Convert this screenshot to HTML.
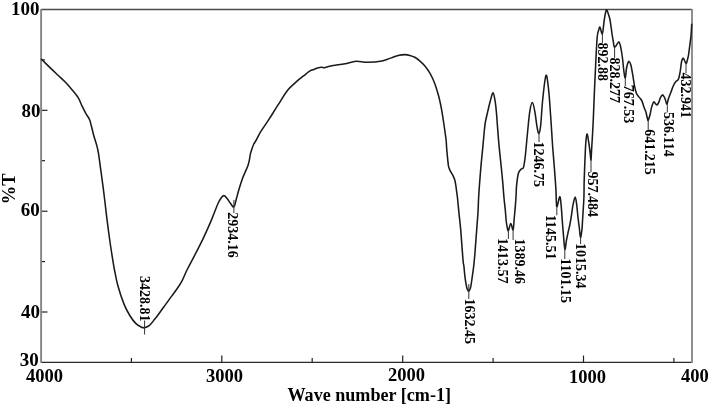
<!DOCTYPE html>
<html><head><meta charset="utf-8"><style>
html,body{margin:0;padding:0;background:#fff;}
svg{display:block;filter:grayscale(1);}
text{font-family:"Liberation Serif",serif;font-weight:bold;fill:#000;}
</style></head><body>
<svg width="709" height="405" viewBox="0 0 709 405">

<line x1="41" y1="9.5" x2="692" y2="9.5" stroke="#4a4a4a" stroke-width="1.3"/>
<line x1="41" y1="362.4" x2="692" y2="362.4" stroke="#2a2a2a" stroke-width="1.1"/>
<line x1="41.1" y1="8.9" x2="41.1" y2="362.9" stroke="#858585" stroke-width="1.9"/>
<line x1="692" y1="8.9" x2="692" y2="362.9" stroke="#8a8a8a" stroke-width="1.9"/>
<line x1="42" y1="312.0" x2="47.5" y2="312.0" stroke="#111" stroke-width="1.1"/>
<line x1="42" y1="261.6" x2="45.0" y2="261.6" stroke="#111" stroke-width="1.1"/>
<line x1="42" y1="211.2" x2="47.5" y2="211.2" stroke="#111" stroke-width="1.1"/>
<line x1="42" y1="160.7" x2="45.0" y2="160.7" stroke="#111" stroke-width="1.1"/>
<line x1="42" y1="110.3" x2="47.5" y2="110.3" stroke="#111" stroke-width="1.1"/>
<line x1="42" y1="59.9" x2="45.0" y2="59.9" stroke="#111" stroke-width="1.1"/>
<line x1="131.4" y1="358.0" x2="131.4" y2="362" stroke="#222" stroke-width="1.2"/>
<line x1="221.8" y1="355.5" x2="221.8" y2="362" stroke="#222" stroke-width="1.2"/>
<line x1="312.2" y1="358.0" x2="312.2" y2="362" stroke="#222" stroke-width="1.2"/>
<line x1="402.7" y1="355.5" x2="402.7" y2="362" stroke="#222" stroke-width="1.2"/>
<line x1="493.1" y1="358.0" x2="493.1" y2="362" stroke="#222" stroke-width="1.2"/>
<line x1="583.5" y1="355.5" x2="583.5" y2="362" stroke="#222" stroke-width="1.2"/>
<line x1="673.9" y1="358.0" x2="673.9" y2="362" stroke="#222" stroke-width="1.2"/>
<path d="M41.50,59.30 C42.92,60.68 47.25,64.95 50.00,67.60 C52.75,70.25 55.50,72.83 58.00,75.20 C60.50,77.57 62.63,79.35 65.00,81.80 C67.37,84.25 69.98,87.22 72.20,89.90 C74.42,92.58 76.67,95.23 78.30,97.90 C79.93,100.57 80.75,103.33 82.00,105.90 C83.25,108.47 84.55,111.03 85.80,113.30 C87.05,115.57 88.58,117.43 89.50,119.50 C90.42,121.57 90.58,122.98 91.30,125.70 C92.02,128.42 92.72,131.82 93.80,135.80 C94.88,139.78 96.65,144.00 97.80,149.60 C98.95,155.20 99.82,163.13 100.70,169.40 C101.58,175.67 102.43,182.10 103.10,187.20 C103.77,192.30 104.07,194.75 104.70,200.00 C105.33,205.25 106.05,211.95 106.90,218.70 C107.75,225.45 108.82,233.58 109.80,240.50 C110.78,247.42 112.02,255.28 112.80,260.20 C113.58,265.12 113.65,265.73 114.50,270.00 C115.35,274.27 116.35,280.20 117.90,285.80 C119.45,291.40 121.82,298.65 123.80,303.60 C125.78,308.55 127.82,312.20 129.80,315.50 C131.78,318.80 133.73,321.43 135.70,323.40 C137.67,325.37 140.12,326.58 141.60,327.30 C143.08,328.02 143.28,328.03 144.60,327.70 C145.92,327.37 147.87,326.65 149.50,325.30 C151.13,323.95 152.83,321.53 154.40,319.60 C155.97,317.67 157.17,316.03 158.90,313.70 C160.63,311.37 162.83,308.32 164.80,305.60 C166.77,302.88 168.72,300.12 170.70,297.40 C172.68,294.68 174.83,292.02 176.70,289.30 C178.57,286.58 180.18,284.32 181.90,281.10 C183.62,277.88 184.68,274.65 187.00,270.00 C189.32,265.35 193.02,258.63 195.80,253.20 C198.58,247.77 201.07,243.00 203.70,237.40 C206.33,231.80 209.10,225.50 211.60,219.60 C214.10,213.70 216.72,205.98 218.70,202.00 C220.68,198.02 222.13,196.32 223.50,195.70 C224.87,195.08 225.72,197.00 226.90,198.30 C228.08,199.60 229.43,202.07 230.60,203.50 C231.77,204.93 232.92,207.77 233.90,206.90 C234.88,206.03 235.70,201.08 236.50,198.30 C237.30,195.52 237.73,193.42 238.70,190.20 C239.67,186.98 241.27,181.92 242.30,179.00 C243.33,176.08 243.97,174.92 244.90,172.70 C245.83,170.48 247.15,167.85 247.90,165.70 C248.65,163.55 248.98,161.77 249.40,159.80 C249.82,157.83 249.98,155.72 250.40,153.90 C250.82,152.08 251.33,150.55 251.90,148.90 C252.47,147.25 253.07,145.48 253.80,144.00 C254.53,142.52 255.15,142.05 256.30,140.00 C257.45,137.95 258.65,135.05 260.70,131.70 C262.75,128.35 265.73,124.32 268.60,119.90 C271.47,115.48 274.70,110.17 277.90,105.20 C281.10,100.23 284.83,93.92 287.80,90.10 C290.77,86.28 292.73,84.93 295.70,82.30 C298.67,79.67 303.22,76.20 305.60,74.30 C307.98,72.40 308.53,71.73 310.00,70.90 C311.47,70.07 313.17,69.77 314.40,69.30 C315.63,68.83 316.22,68.45 317.40,68.10 C318.58,67.75 320.38,67.27 321.50,67.20 C322.62,67.13 323.23,67.73 324.10,67.70 C324.97,67.67 325.18,67.35 326.70,67.00 C328.22,66.65 330.15,66.15 333.20,65.60 C336.25,65.05 341.18,64.42 345.00,63.70 C348.82,62.98 352.40,61.53 356.10,61.30 C359.80,61.07 362.88,62.37 367.20,62.30 C371.52,62.23 377.80,61.72 382.00,60.90 C386.20,60.08 389.73,58.32 392.40,57.40 C395.07,56.48 395.92,55.87 398.00,55.40 C400.08,54.93 402.92,54.60 404.90,54.60 C406.88,54.60 408.25,54.95 409.90,55.40 C411.55,55.85 413.17,56.40 414.80,57.30 C416.43,58.20 418.05,59.40 419.70,60.80 C421.35,62.20 423.05,63.73 424.70,65.70 C426.35,67.67 428.20,70.30 429.60,72.60 C431.00,74.90 432.02,77.03 433.10,79.50 C434.18,81.97 435.10,84.35 436.10,87.40 C437.10,90.45 438.18,94.10 439.10,97.80 C440.02,101.50 440.87,105.65 441.60,109.60 C442.33,113.55 442.93,117.78 443.50,121.50 C444.07,125.22 444.55,128.65 445.00,131.90 C445.45,135.15 445.92,138.17 446.20,141.00 C446.48,143.83 446.45,145.85 446.70,148.90 C446.95,151.95 447.38,156.33 447.70,159.30 C448.02,162.27 448.15,164.73 448.60,166.70 C449.05,168.67 449.67,169.62 450.40,171.10 C451.13,172.58 452.27,174.12 453.00,175.60 C453.73,177.08 454.32,178.28 454.80,180.00 C455.28,181.72 455.58,183.92 455.90,185.90 C456.22,187.88 456.43,189.88 456.70,191.90 C456.97,193.92 457.13,194.60 457.50,198.00 C457.87,201.40 458.37,207.03 458.90,212.30 C459.43,217.57 460.18,223.83 460.70,229.60 C461.22,235.37 461.58,241.50 462.00,246.90 C462.42,252.30 462.88,258.80 463.20,262.00 C463.52,265.20 463.60,263.57 463.90,266.10 C464.20,268.63 464.53,273.68 465.00,277.20 C465.47,280.72 466.10,284.88 466.70,287.20 C467.30,289.52 467.95,291.10 468.60,291.10 C469.25,291.10 470.00,289.52 470.60,287.20 C471.20,284.88 471.68,280.72 472.20,277.20 C472.72,273.68 473.27,269.80 473.70,266.10 C474.13,262.40 474.52,258.20 474.80,255.00 C475.08,251.80 475.08,251.13 475.40,246.90 C475.72,242.67 476.27,235.37 476.70,229.60 C477.13,223.83 477.68,217.57 478.00,212.30 C478.32,207.03 478.32,203.07 478.60,198.00 C478.88,192.93 479.28,187.47 479.70,181.90 C480.12,176.33 480.58,170.37 481.10,164.60 C481.62,158.83 482.27,152.90 482.80,147.30 C483.33,141.70 483.87,135.22 484.30,131.00 C484.73,126.78 484.80,125.35 485.40,122.00 C486.00,118.65 487.08,114.40 487.90,110.90 C488.72,107.40 489.43,104.03 490.30,101.00 C491.17,97.97 492.27,92.48 493.10,92.70 C493.93,92.92 494.73,98.85 495.30,102.30 C495.87,105.75 496.12,109.12 496.50,113.40 C496.88,117.68 497.15,122.35 497.60,128.00 C498.05,133.65 498.63,141.20 499.20,147.30 C499.77,153.40 500.42,158.83 501.00,164.60 C501.58,170.37 502.20,176.33 502.70,181.90 C503.20,187.47 503.57,193.32 504.00,198.00 C504.43,202.68 504.93,206.17 505.30,210.00 C505.67,213.83 505.83,217.88 506.20,221.00 C506.57,224.12 507.12,227.12 507.50,228.70 C507.88,230.28 507.95,231.37 508.50,230.50 C509.05,229.63 510.03,223.62 510.80,223.50 C511.57,223.38 512.52,230.80 513.10,229.80 C513.68,228.80 513.92,221.57 514.30,217.50 C514.68,213.43 515.10,209.15 515.40,205.40 C515.70,201.65 515.90,198.33 516.10,195.00 C516.30,191.67 516.22,189.02 516.60,185.40 C516.98,181.78 517.67,176.00 518.40,173.30 C519.13,170.60 520.15,170.20 521.00,169.20 C521.85,168.20 522.78,169.50 523.50,167.30 C524.22,165.10 524.67,161.38 525.30,156.00 C525.93,150.62 526.55,142.43 527.30,135.00 C528.05,127.57 528.95,116.82 529.80,111.40 C530.65,105.98 531.57,102.50 532.40,102.50 C533.23,102.50 534.02,107.28 534.80,111.40 C535.58,115.52 536.42,123.52 537.10,127.20 C537.78,130.88 538.30,133.83 538.90,133.50 C539.50,133.17 540.07,130.87 540.70,125.20 C541.33,119.53 541.82,107.80 542.70,99.50 C543.58,91.20 545.02,77.05 546.00,75.40 C546.98,73.75 547.83,82.95 548.60,89.60 C549.37,96.25 550.00,106.90 550.60,115.30 C551.20,123.70 551.82,134.25 552.20,140.00 C552.58,145.75 552.52,144.88 552.90,149.80 C553.28,154.72 554.00,162.92 554.50,169.50 C555.00,176.08 555.60,184.15 555.90,189.30 C556.20,194.45 556.12,197.45 556.30,200.40 C556.48,203.35 556.43,207.62 557.00,207.00 C557.57,206.38 559.02,197.07 559.70,196.70 C560.38,196.33 560.68,200.98 561.10,204.80 C561.52,208.62 561.82,214.67 562.20,219.60 C562.58,224.53 562.95,229.45 563.40,234.40 C563.85,239.35 564.38,248.37 564.90,249.30 C565.42,250.23 565.93,242.97 566.50,240.00 C567.07,237.03 567.72,234.15 568.30,231.50 C568.88,228.85 569.47,226.82 570.00,224.10 C570.53,221.38 571.00,218.42 571.50,215.20 C572.00,211.98 572.38,207.82 573.00,204.80 C573.62,201.78 574.58,197.10 575.20,197.10 C575.82,197.10 576.25,201.53 576.70,204.80 C577.15,208.07 577.45,212.75 577.90,216.70 C578.35,220.65 578.97,225.05 579.40,228.50 C579.83,231.95 580.08,237.15 580.50,237.40 C580.92,237.65 581.55,232.97 581.90,230.00 C582.25,227.03 582.27,224.97 582.60,219.60 C582.93,214.23 583.63,204.40 583.90,197.80 C584.17,191.20 583.95,188.03 584.20,180.00 C584.45,171.97 585.08,156.38 585.40,149.60 C585.72,142.82 585.80,141.88 586.10,139.30 C586.40,136.72 586.77,133.62 587.20,134.10 C587.63,134.58 588.22,139.12 588.70,142.20 C589.18,145.28 589.72,149.63 590.10,152.60 C590.48,155.57 590.75,160.50 591.00,160.00 C591.25,159.50 591.35,153.80 591.60,149.60 C591.85,145.40 592.22,139.85 592.50,134.80 C592.78,129.75 592.97,126.83 593.30,119.30 C593.63,111.77 594.07,99.48 594.50,89.60 C594.93,79.72 595.45,68.77 595.90,60.00 C596.35,51.23 596.72,42.05 597.20,37.00 C597.68,31.95 598.33,31.33 598.80,29.70 C599.27,28.07 599.43,26.45 600.00,27.20 C600.57,27.95 601.63,34.20 602.20,34.20 C602.77,34.20 603.05,29.60 603.40,27.20 C603.75,24.80 603.93,22.27 604.30,19.80 C604.67,17.33 605.18,14.05 605.60,12.40 C606.02,10.75 606.32,9.55 606.80,9.90 C607.28,10.25 607.97,12.88 608.50,14.50 C609.03,16.12 609.57,17.48 610.00,19.60 C610.43,21.72 610.73,24.63 611.10,27.20 C611.47,29.77 611.83,32.58 612.20,35.00 C612.57,37.42 612.95,39.70 613.30,41.70 C613.65,43.70 613.83,46.33 614.30,47.00 C614.77,47.67 615.33,46.55 616.10,45.70 C616.87,44.85 618.13,41.67 618.90,41.90 C619.67,42.13 620.12,44.50 620.70,47.10 C621.28,49.70 621.85,53.32 622.40,57.50 C622.95,61.68 623.52,68.82 624.00,72.20 C624.48,75.58 624.88,78.42 625.30,77.80 C625.72,77.18 626.10,70.87 626.50,68.50 C626.90,66.13 627.28,64.78 627.70,63.60 C628.12,62.42 628.48,61.20 629.00,61.40 C629.52,61.60 630.18,62.58 630.80,64.80 C631.42,67.02 632.08,71.20 632.70,74.70 C633.32,78.20 633.88,82.72 634.50,85.80 C635.12,88.88 635.68,91.35 636.40,93.20 C637.12,95.05 638.15,96.02 638.80,96.90 C639.45,97.78 639.73,97.72 640.30,98.50 C640.87,99.28 641.58,100.15 642.20,101.60 C642.82,103.05 643.38,105.45 644.00,107.20 C644.62,108.95 645.33,110.25 645.90,112.10 C646.47,113.95 647.02,116.95 647.40,118.30 C647.78,119.65 647.77,120.80 648.20,120.20 C648.63,119.60 649.48,116.67 650.00,114.70 C650.52,112.73 650.85,110.18 651.30,108.40 C651.75,106.62 652.25,105.10 652.70,104.00 C653.15,102.90 653.48,101.80 654.00,101.80 C654.52,101.80 655.28,103.48 655.80,104.00 C656.32,104.52 656.58,105.20 657.10,104.90 C657.62,104.60 658.38,103.32 658.90,102.20 C659.42,101.08 659.62,99.42 660.20,98.20 C660.78,96.98 661.73,95.12 662.40,94.90 C663.07,94.68 663.67,95.98 664.20,96.90 C664.73,97.82 665.15,99.18 665.60,100.40 C666.05,101.62 666.47,104.33 666.90,104.20 C667.33,104.07 667.72,101.13 668.20,99.60 C668.68,98.07 669.33,96.27 669.80,95.00 C670.27,93.73 670.45,93.45 671.00,92.00 C671.55,90.55 672.38,87.93 673.10,86.30 C673.82,84.67 674.50,83.25 675.30,82.20 C676.10,81.15 677.28,80.80 677.90,80.00 C678.52,79.20 678.68,78.45 679.00,77.40 C679.32,76.35 679.55,75.02 679.80,73.70 C680.05,72.38 680.20,71.53 680.50,69.50 C680.80,67.47 681.12,63.37 681.60,61.50 C682.08,59.63 682.67,57.97 683.40,58.30 C684.13,58.63 685.32,63.30 686.00,63.50 C686.68,63.70 687.07,60.98 687.50,59.50 C687.93,58.02 688.20,57.08 688.60,54.60 C689.00,52.12 689.48,47.92 689.90,44.60 C690.32,41.28 690.80,38.10 691.10,34.70 C691.40,31.30 691.60,25.95 691.70,24.20" fill="none" stroke="#1a1a1a" stroke-width="1.55" stroke-linejoin="round" stroke-linecap="round"/>
<line x1="144.6" y1="320.5" x2="144.6" y2="334.5" stroke="#333" stroke-width="1"/>
<line x1="233.9" y1="200.0" x2="233.9" y2="213.0" stroke="#333" stroke-width="1"/>
<line x1="468.8" y1="284.0" x2="468.8" y2="299.0" stroke="#333" stroke-width="1"/>
<line x1="508.4" y1="230.0" x2="508.4" y2="239.0" stroke="#333" stroke-width="1"/>
<line x1="513.1" y1="229.5" x2="513.1" y2="240.0" stroke="#333" stroke-width="1"/>
<line x1="539.0" y1="132.0" x2="539.0" y2="142.0" stroke="#333" stroke-width="1"/>
<line x1="556.8" y1="208.0" x2="556.8" y2="215.3" stroke="#333" stroke-width="1"/>
<line x1="564.8" y1="246.0" x2="564.8" y2="259.0" stroke="#333" stroke-width="1"/>
<line x1="580.6" y1="237.0" x2="580.6" y2="244.0" stroke="#333" stroke-width="1"/>
<line x1="591.0" y1="160.0" x2="591.0" y2="172.0" stroke="#333" stroke-width="1"/>
<line x1="602.4" y1="32.5" x2="602.4" y2="43.0" stroke="#333" stroke-width="1"/>
<line x1="614.6" y1="48.0" x2="614.6" y2="58.0" stroke="#333" stroke-width="1"/>
<line x1="625.3" y1="78.0" x2="625.3" y2="86.0" stroke="#333" stroke-width="1"/>
<line x1="648.2" y1="120.0" x2="648.2" y2="129.8" stroke="#333" stroke-width="1"/>
<line x1="667.3" y1="104.0" x2="667.3" y2="112.4" stroke="#333" stroke-width="1"/>
<line x1="686.0" y1="63.3" x2="686.0" y2="73.1" stroke="#333" stroke-width="1"/>
<text font-size="14" transform="translate(139.8,276.0) rotate(90)">3428.81</text>
<text font-size="14" transform="translate(228.4,212.2) rotate(90)">2934.16</text>
<text font-size="14" transform="translate(465.2,298.5) rotate(90)">1632.45</text>
<text font-size="14" transform="translate(497.9,237.9) rotate(90)">1413.57</text>
<text font-size="14" transform="translate(514.6,238.5) rotate(90)">1389.46</text>
<text font-size="14" transform="translate(534.0,141.5) rotate(90)">1246.75</text>
<text font-size="14" transform="translate(546.2,214.8) rotate(90)">1145.51</text>
<text font-size="14" transform="translate(560.9,258.3) rotate(90)">1101.15</text>
<text font-size="14" transform="translate(576.4,242.9) rotate(90)">1015.34</text>
<text font-size="14" transform="translate(587.5,171.5) rotate(90)">957.484</text>
<text font-size="14" transform="translate(598.1,42.5) rotate(90)">892.88</text>
<text font-size="14" transform="translate(610.3,57.5) rotate(90)">828.277</text>
<text font-size="14" transform="translate(624.0,84.8) rotate(90)">767.53</text>
<text font-size="14" transform="translate(644.5,129.3) rotate(90)">641.215</text>
<text font-size="14" transform="translate(663.5,111.9) rotate(90)">536.114</text>
<text font-size="14" transform="translate(681.3,72.6) rotate(90)">432.941</text>
<text font-size="19" x="11.0" y="14.7">100</text>
<text font-size="19" x="21.4" y="116.6">80</text>
<text font-size="19" x="20.8" y="215.6">60</text>
<text font-size="19" x="21.0" y="318.2">40</text>
<text font-size="19" x="19.8" y="365.6">30</text>
<text font-size="18.5" x="26.1" y="382.1">4000</text>
<text font-size="18.5" x="205.9" y="382.2">3000</text>
<text font-size="18.5" x="388.0" y="381.2">2000</text>
<text font-size="18.5" x="569.0" y="382.5">1000</text>
<text font-size="18.5" x="681.1" y="381.8">400</text>
<text font-size="18.1" x="287.5" y="400.6">Wave number [cm-1]</text>
<text font-size="18.5" transform="translate(15.0,204.3) rotate(-90)">%T</text>
</svg>
</body></html>
